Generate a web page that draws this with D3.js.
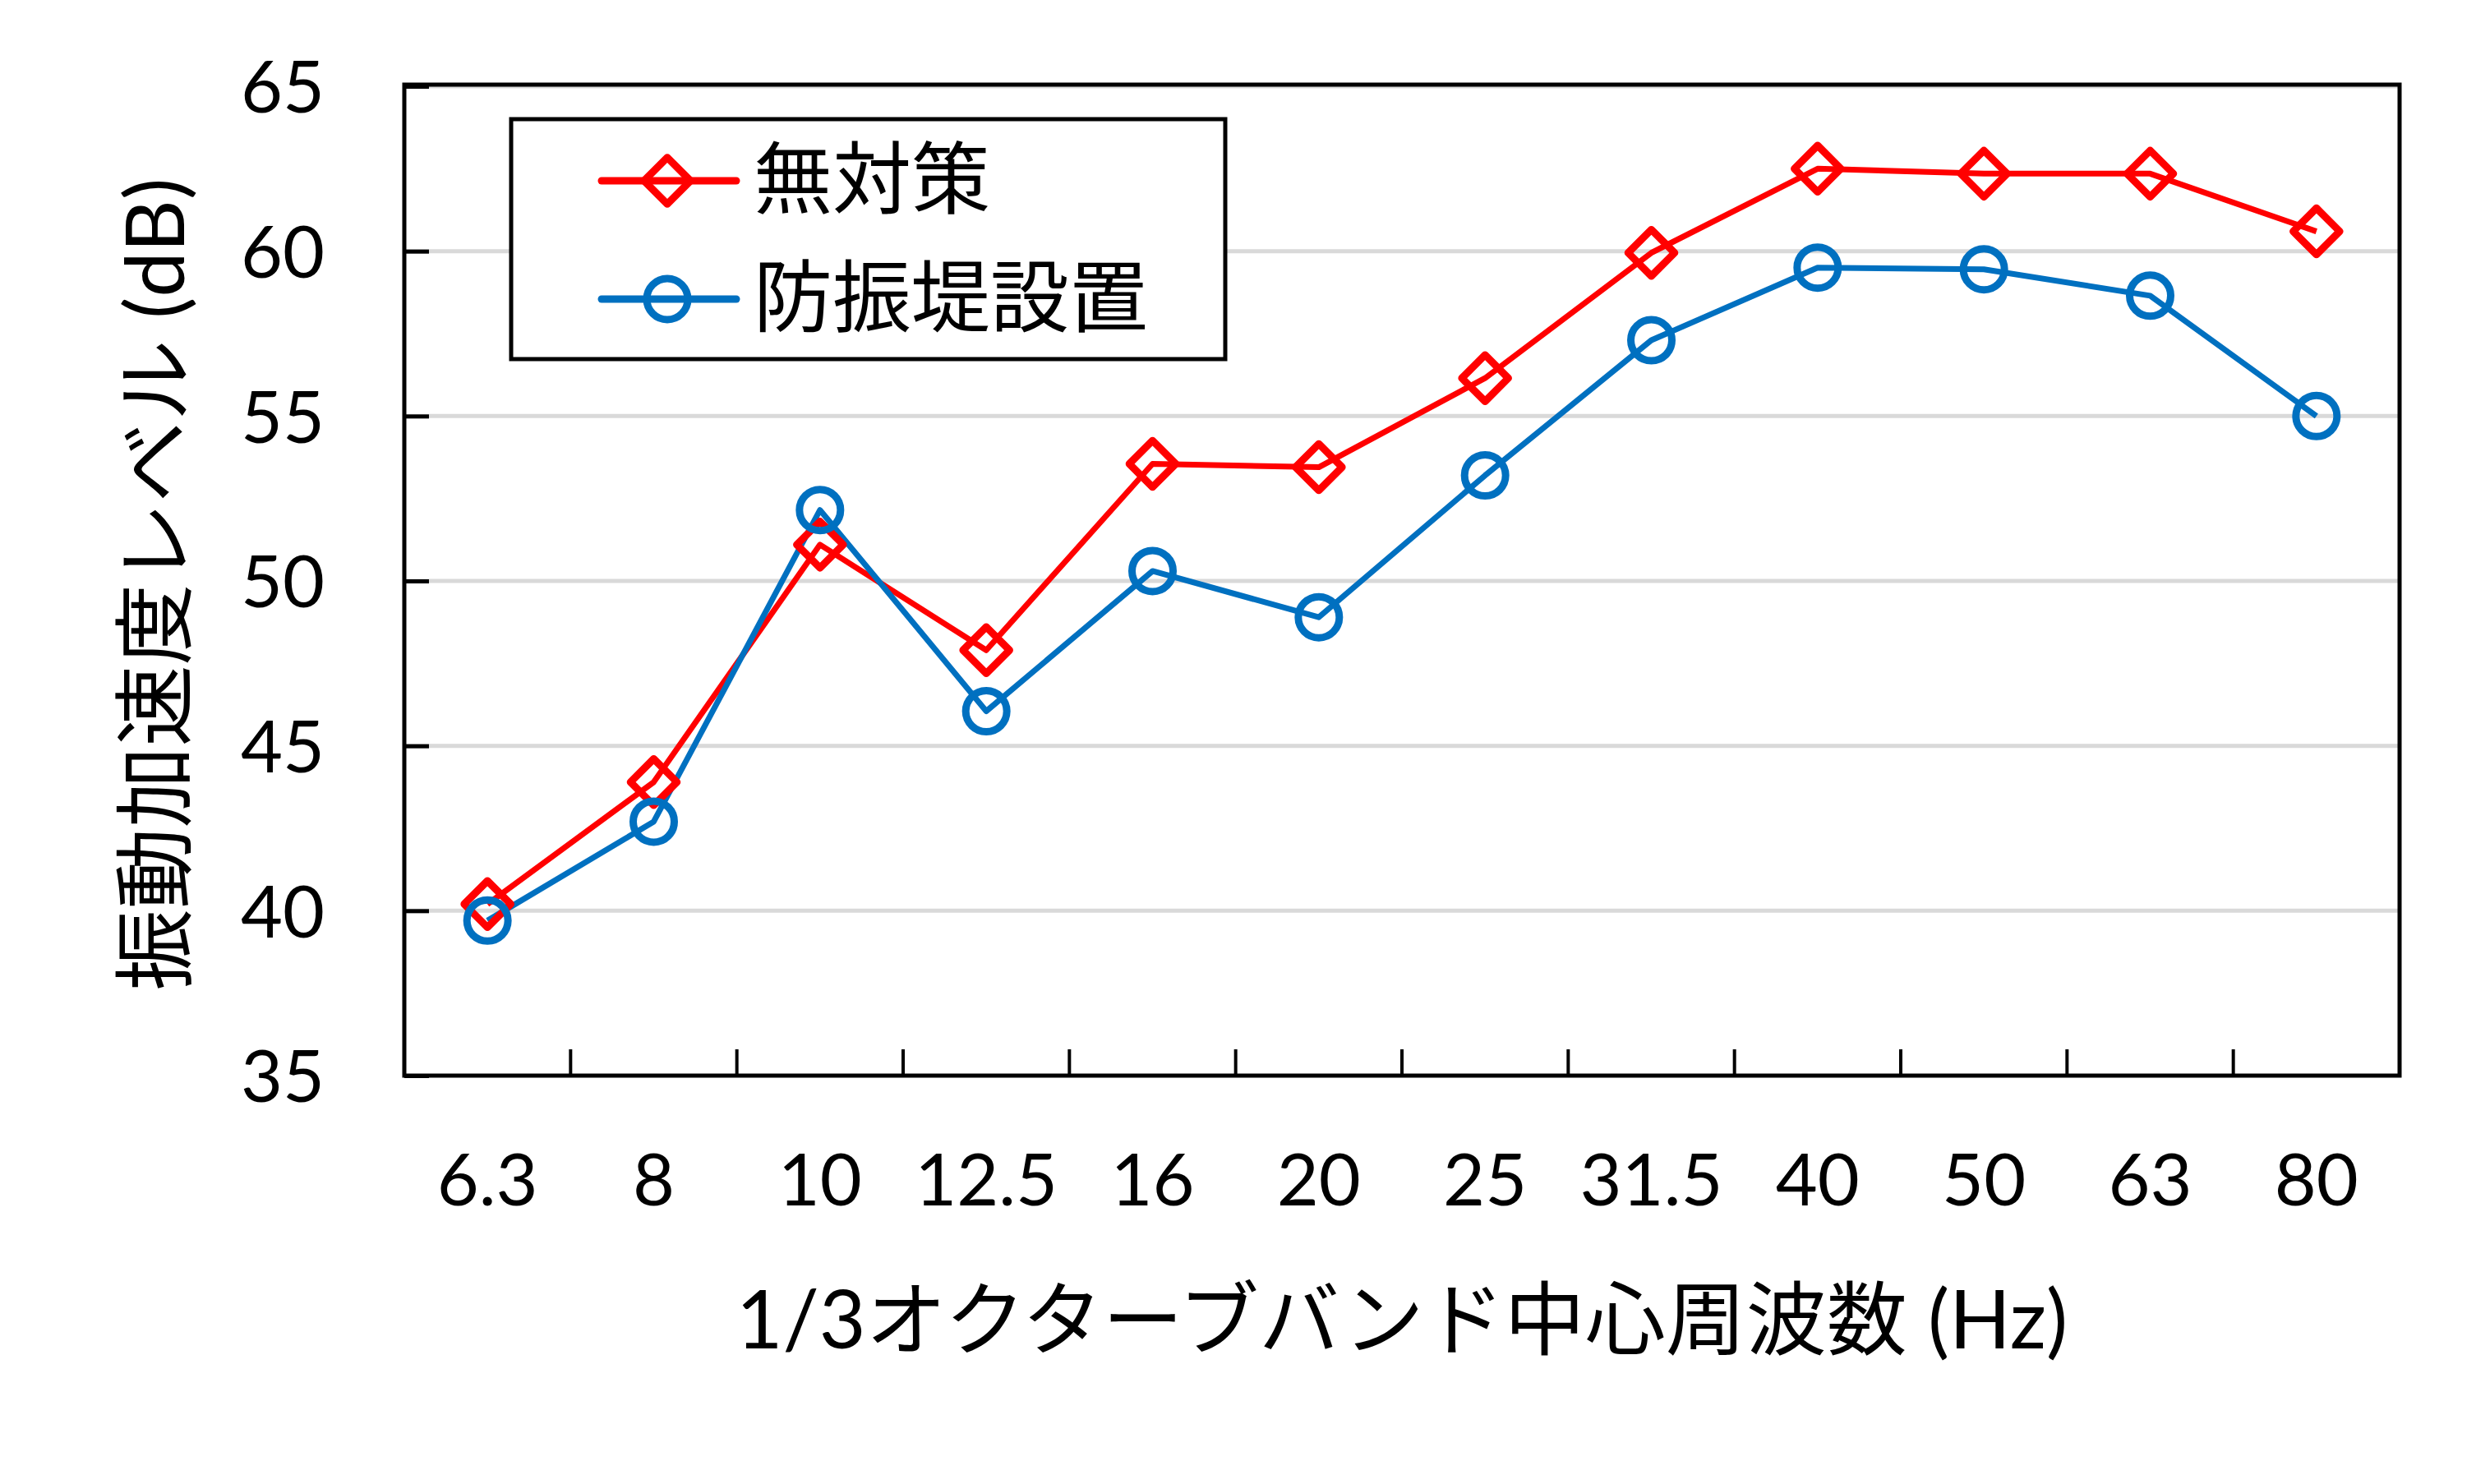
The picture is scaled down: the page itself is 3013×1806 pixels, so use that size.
<!DOCTYPE html>
<html>
<head>
<meta charset="utf-8">
<script src="https://cdn.jsdelivr.net/npm/d3@7"></script>
<style>
  html, body { margin: 0; padding: 0; background: #fff; }
  svg { display: block; }
</style>
</head>
<body>
<svg id="chart" width="3013" height="1806"></svg>
<script>
// ---- data ----
const categories = ["6.3", "8", "10", "12.5", "16", "20", "25", "31.5", "40", "50", "63", "80"];
const noCountermeasure = [40.2, 43.9, 51.1, 47.9, 53.55, 53.45, 56.15, 59.95, 62.5, 62.35, 62.35, 60.6];
const barrierInstalled = [39.7, 42.7, 52.15, 46.05, 50.3, 48.9, 53.2, 57.3, 59.5, 59.45, 58.65, 55.0];
const yTicks = [35, 40, 45, 50, 55, 60, 65];
const seriesNames = ["無対策", "防振堤設置"];
const xTitle = "1/3オクターブバンド中心周波数 (Hz)";
const yTitle = "振動加速度レベル (dB)";

// ---- layout ----
const plot = { left: 492, right: 2920, top: 105, bottom: 1309 };
const FONT = "Lato, 'Noto Sans CJK JP', sans-serif";
const RED = "#FF0000", BLUE = "#0070C0";

const svg = d3.select("#chart");

const x = d3.scaleBand().domain(categories).range([plot.left, plot.right]).padding(0);
const y = d3.scaleLinear().domain([35, 65]).range([plot.bottom, plot.top]);
const cx = c => x(c) + x.bandwidth() / 2;

// gridlines
svg.append("g").selectAll("line").data(yTicks.filter(t => t > 35)).join("line")
  .attr("x1", plot.left).attr("x2", plot.right)
  .attr("y1", d => y(d)).attr("y2", d => y(d))
  .attr("stroke", "#D9D9D9").attr("stroke-width", 5);

// y axis
const yAxis = d3.axisLeft(y).tickValues(yTicks).tickSizeInner(-30).tickSizeOuter(0).tickPadding(97).tickFormat(d3.format("d"));
const gy = svg.append("g").attr("transform", `translate(${plot.left},0)`).call(yAxis);
gy.select(".domain").remove();
gy.selectAll(".tick line").attr("stroke", "#000").attr("stroke-width", 5);
gy.selectAll(".tick text").attr("font-family", FONT).attr("font-size", 88).attr("fill", "#000").attr("dy", "0.36em");

// x axis labels (band centers)
const xAxis = d3.axisBottom(x).tickSize(0).tickPadding(0);
const gx = svg.append("g").attr("transform", `translate(0,${plot.bottom})`).call(xAxis);
gx.select(".domain").remove();
gx.selectAll(".tick text").attr("font-family", FONT).attr("font-size", 88).attr("fill", "#000")
  .attr("dy", null).attr("y", 158);

// x tick marks at band boundaries (inward)
svg.append("g").selectAll("line").data(categories.slice(1)).join("line")
  .attr("x1", d => x(d)).attr("x2", d => x(d))
  .attr("y1", plot.bottom).attr("y2", plot.bottom - 32)
  .attr("stroke", "#000").attr("stroke-width", 4);

// plot border
svg.append("rect")
  .attr("x", plot.left).attr("y", plot.top - 2)
  .attr("width", plot.right - plot.left).attr("height", plot.bottom - plot.top + 2)
  .attr("fill", "none").attr("stroke", "#000").attr("stroke-width", 5);

// lines
const line = d3.line().x(d => cx(d.c)).y(d => y(d.v));
const series = [
  { name: seriesNames[0], values: noCountermeasure, color: RED, marker: "diamond" },
  { name: seriesNames[1], values: barrierInstalled, color: BLUE, marker: "circle" }
];

const diamondPath = d3.symbol().type(d3.symbolSquare).size(40 * 40)();
const circlePath = d3.symbol().type(d3.symbolCircle).size(Math.PI * 25 * 25)();

function drawMarker(g, type, color, px, py) {
  g.append("path")
    .attr("d", type === "diamond" ? diamondPath : circlePath)
    .attr("transform", `translate(${px},${py})` + (type === "diamond" ? " rotate(45)" : ""))
    .attr("fill", "none").attr("stroke", color).attr("stroke-width", 9)
    .attr("stroke-linejoin", "round");
}

series.forEach(s => {
  const pts = categories.map((c, i) => ({ c, v: s.values[i] }));
  svg.append("path").datum(pts)
    .attr("d", line).attr("fill", "none")
    .attr("stroke", s.color).attr("stroke-width", 7).attr("stroke-linejoin", "round");
});
series.forEach(s => {
  const g = svg.append("g");
  categories.forEach((c, i) => drawMarker(g, s.marker, s.color, cx(c), y(s.values[i])));
});

// legend
const lg = svg.append("g");
lg.append("rect").attr("x", 622).attr("y", 145).attr("width", 869).attr("height", 292)
  .attr("fill", "#fff").attr("stroke", "#000").attr("stroke-width", 5);
const legendRows = [220, 364];
series.forEach((s, i) => {
  const ly = legendRows[i];
  lg.append("line").attr("x1", 732).attr("x2", 896).attr("y1", ly).attr("y2", ly)
    .attr("stroke", s.color).attr("stroke-width", 9).attr("stroke-linecap", "round");
  drawMarker(lg, s.marker, s.color, 812, ly);
  lg.append("text").attr("x", 917).attr("y", ly - 6)
    .attr("dominant-baseline", "central")
    .attr("font-family", FONT).attr("font-size", 96).attr("fill", "#000").text(s.name);
});

// axis titles
svg.append("text").attr("x", 1706).attr("y", 1641).attr("text-anchor", "middle")
  .attr("font-family", FONT).attr("font-size", 98).attr("fill", "#000").text(xTitle);
svg.append("text").attr("transform", "translate(185,711) rotate(-90)")
  .attr("text-anchor", "middle").attr("dominant-baseline", "central")
  .attr("font-family", FONT).attr("font-size", 99).attr("fill", "#000").text(yTitle);
</script>
</body>
</html>
